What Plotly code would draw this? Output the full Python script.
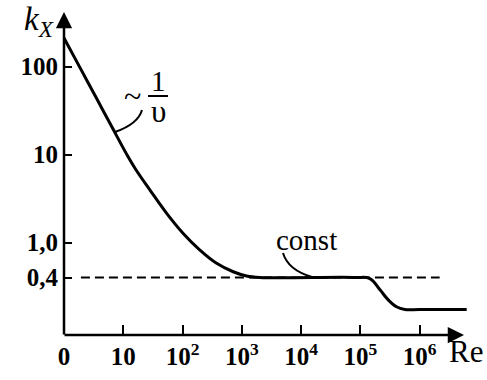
import plotly.graph_objects as go

# ---- data ----
re_curve = [1, 1.861, 3.463, 6.44, 11.99, 16.35, 28.2, 53.9, 102.5, 196, 375, 714, 1202, 2014,
            8.0e4, 1.44e5, 2.12e5, 2.92e5, 4.05e5, 5.6e5, 1.0e6, 6.2e6]
k_curve = [212, 97.7, 44.9, 20.6, 9.51, 6.72, 3.95, 2.15, 1.27, 0.822, 0.580, 0.465, 0.416, 0.40,
           0.40, 0.389, 0.292, 0.224, 0.186, 0.173, 0.173, 0.173]

re_const = [1.93, 2.17e6]
k_const = [0.4, 0.4]

x_tickvals = [1, 10, 1e2, 1e3, 1e4, 1e5, 1e6]
x_ticktext = ["0", "10", "10<sup>2</sup>", "10<sup>3</sup>", "10<sup>4</sup>",
              "10<sup>5</sup>", "10<sup>6</sup>"]
y_tickvals = [100, 10, 1.0, 0.4]
y_ticktext = ["100", "10", "1,0", "0,4"]

W, H = 487, 380
ML, MR, MT, MB = 64, 8, 14, 45
PW, PH = W - ML - MR, H - MT - MB


def px(x):
    return (x - ML) / PW


def py(y):
    return (H - MB - y) / PH


FONT = "Liberation Serif, Times New Roman, Times, serif"
WT = "bold"

fig = go.Figure()
fig.add_trace(go.Scatter(x=re_const, y=k_const, mode="lines",
                         line=dict(color="black", width=2.2, dash="9px,5px"),
                         hoverinfo="skip"))
fig.add_trace(go.Scatter(x=re_curve, y=k_curve, mode="lines",
                         line=dict(color="black", width=3, shape="spline", smoothing=1.1),
                         hoverinfo="skip"))

fig.update_layout(
    width=W, height=H,
    margin=dict(l=ML, r=MR, t=MT, b=MB, pad=0, autoexpand=False),
    paper_bgcolor="white", plot_bgcolor="white",
    showlegend=False,
    font=dict(family=FONT, color="black", size=25),
    xaxis=dict(type="log", range=[0, 7.0], showgrid=False, zeroline=False,
               showline=False, tickmode="array", tickvals=x_tickvals,
               ticktext=x_ticktext, ticks="inside", ticklen=10, tickwidth=2,
               tickcolor="black", ticklabelstandoff=4, automargin=False,
               tickfont=dict(family=FONT, size=25, color="black", weight=WT)),
    yaxis=dict(type="log", range=[-1.052, 2.600], showgrid=False, zeroline=False,
               showline=False, tickmode="array", tickvals=y_tickvals,
               ticktext=y_ticktext, ticks="inside", ticklen=8, tickwidth=2,
               tickcolor="black", ticklabelstandoff=5, automargin=False,
               tickfont=dict(family=FONT, size=25, color="black", weight=WT)),
)

ann = []
# axis arrows
ann.append(dict(xref="paper", yref="paper", x=px(464), y=py(335), ax=-(464 - 63), ay=0,
                text="", showarrow=True, arrowhead=2, arrowsize=1.3, arrowwidth=2.5,
                arrowcolor="black", standoff=0, startstandoff=0))
ann.append(dict(xref="paper", yref="paper", x=px(64), y=py(12), ax=0, ay=(336 - 12),
                text="", showarrow=True, arrowhead=2, arrowsize=1.3, arrowwidth=2.5,
                arrowcolor="black", standoff=0, startstandoff=0))
# labels
ann.append(dict(xref="paper", yref="paper", x=px(39), y=py(21), text="<i>k</i><sub><i>X</i></sub>",
                showarrow=False, xanchor="center", yanchor="middle",
                font=dict(family=FONT, size=33, color="black")))
ann.append(dict(xref="paper", yref="paper", x=px(466), y=py(351), text="Re",
                showarrow=False, xanchor="center", yanchor="middle",
                font=dict(family=FONT, size=31, color="black")))
ann.append(dict(xref="paper", yref="paper", x=px(306), y=py(240), text="const",
                showarrow=False, xanchor="center", yanchor="middle",
                font=dict(family=FONT, size=29, color="black")))
ann.append(dict(xref="paper", yref="paper", x=px(132), y=py(96), text="~",
                showarrow=False, xanchor="center", yanchor="middle",
                font=dict(family=FONT, size=32, color="black")))
ann.append(dict(xref="paper", yref="paper", x=px(158), y=py(81), text="1",
                showarrow=False, xanchor="center", yanchor="middle",
                font=dict(family=FONT, size=29, color="black")))
ann.append(dict(xref="paper", yref="paper", x=px(158), y=py(111), text="υ",
                showarrow=False, xanchor="center", yanchor="middle",
                font=dict(family=FONT, size=31, color="black")))
fig.update_layout(annotations=ann)

shapes = []
# fraction bar
shapes.append(dict(type="line", xref="paper", yref="paper", x0=px(148), x1=px(168),
                   y0=py(96), y1=py(96), line=dict(color="black", width=2)))
# leader for 1/υ
shapes.append(dict(type="path", xref="paper", yref="paper",
                   path=f"M {px(142)},{py(110)} Q {px(138)},{py(124)} {px(115)},{py(132)}",
                   line=dict(color="black", width=2)))
# leader for const
shapes.append(dict(type="path", xref="paper", yref="paper",
                   path=f"M {px(283)},{py(253)} Q {px(288)},{py(270)} {px(312)},{py(277)}",
                   line=dict(color="black", width=2)))
fig.update_layout(shapes=shapes)

fig.write_html("out.html", config={"displayModeBar": False},
               post_script="document.body.style.margin='0';document.body.style.padding='0';")
